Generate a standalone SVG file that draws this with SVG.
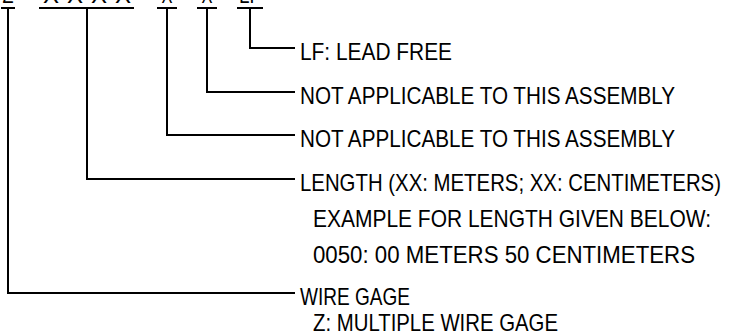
<svg xmlns="http://www.w3.org/2000/svg" width="729" height="334" viewBox="0 0 729 334">
<style>
.t{font-family:"Liberation Sans",Arial,sans-serif;font-size:24px;fill:#000}
.c{fill:none;stroke:#000;stroke-width:2}
</style>
<rect width="729" height="334" fill="#fff"/>
<g id="code">
<text class="t" x="8" y="2.5" text-anchor="middle" textLength="11" lengthAdjust="spacingAndGlyphs">Z</text>
<text class="t" x="87" y="2.5" text-anchor="middle" textLength="88" lengthAdjust="spacing">XXXX</text>
<text class="t" x="167" y="2.5" text-anchor="middle" textLength="11" lengthAdjust="spacingAndGlyphs">X</text>
<text class="t" x="207" y="2.5" text-anchor="middle" textLength="11" lengthAdjust="spacingAndGlyphs">X</text>
<text class="t" x="250" y="2.5" text-anchor="middle" textLength="22" lengthAdjust="spacingAndGlyphs">LF</text>
</g>
<g id="connectors">
<path class="c" d="M1 8H15M8 8V293H295"/>
<path class="c" d="M39 8H134M87 8V179H295"/>
<path class="c" d="M157 8H177M167 8V135H295"/>
<path class="c" d="M197 8H217M207 8V92H295"/>
<path class="c" d="M237 8H263M250 8V48H295"/>
</g>
<g id="lf">
<text class="t" x="300" y="60" textLength="152" lengthAdjust="spacingAndGlyphs">LF: LEAD FREE</text>
</g>
<g id="na1">
<text class="t" x="300" y="104" textLength="375" lengthAdjust="spacingAndGlyphs">NOT APPLICABLE TO THIS ASSEMBLY</text>
</g>
<g id="na2">
<text class="t" x="300" y="147" textLength="375" lengthAdjust="spacingAndGlyphs">NOT APPLICABLE TO THIS ASSEMBLY</text>
</g>
<g id="length">
<text class="t" x="300" y="191" textLength="421" lengthAdjust="spacingAndGlyphs">LENGTH (XX: METERS; XX: CENTIMETERS)</text>
<text class="t" x="313" y="227" textLength="398" lengthAdjust="spacingAndGlyphs">EXAMPLE FOR LENGTH GIVEN BELOW:</text>
<text class="t" x="313" y="263" textLength="382" lengthAdjust="spacingAndGlyphs">0050: 00 METERS 50 CENTIMETERS</text>
</g>
<g id="wire">
<text class="t" x="300" y="305" textLength="110" lengthAdjust="spacingAndGlyphs">WIRE GAGE</text>
<text class="t" x="313" y="331" textLength="245" lengthAdjust="spacingAndGlyphs">Z: MULTIPLE WIRE GAGE</text>
</g>
</svg>
